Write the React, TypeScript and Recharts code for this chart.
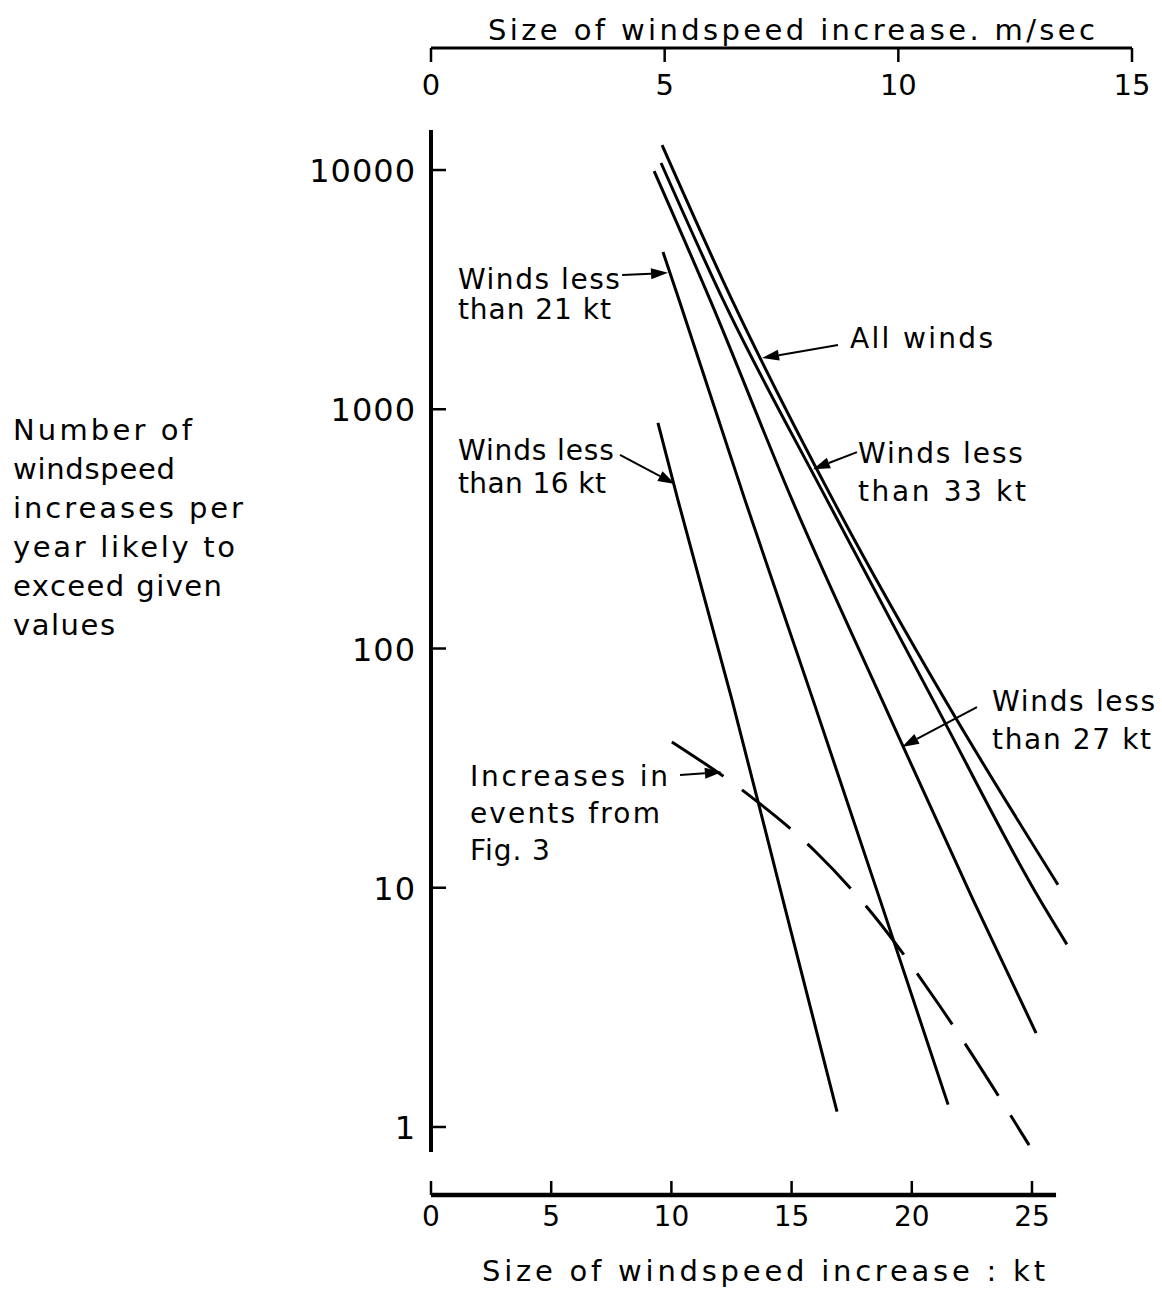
import React from 'react';
import { LineChart, Line, XAxis, YAxis, ReferenceLine, ReferenceDot, Label } from 'recharts';

const FONT = '"DejaVu Sans", "Open Sans", sans-serif';

// ---- data (x = windspeed increase in kt, y = number per year) ----
const allWinds: [number, number][] = [[9.61, 12710], [12.52, 2864], [16.72, 418], [21.38, 61], [26.08, 10.3]];
const lessThan33: [number, number][] = [[9.57, 10700], [12.15, 2864], [16.47, 418], [20.88, 61], [25.33, 8.9], [26.45, 5.8]];
const lessThan27: [number, number][] = [[9.28, 9900], [11.61, 2864], [15.02, 418], [18.76, 61], [22.55, 8.9], [25.17, 2.47]];
const lessThan21: [number, number][] = [[9.65, 4540], [10.32, 2864], [13.06, 418], [15.89, 61], [18.68, 8.9], [21.51, 1.24]];
const lessThan16: [number, number][] = [[9.44, 877], [10.27, 418], [12.52, 61], [14.64, 8.9], [16.89, 1.16]];
const fig3Events: [number, number][] = [[10.02, 40.7], [13.06, 25.1], [16.01, 14.1], [18.47, 7.55], [21.05, 3.33], [24.88, 0.84]];

const ktTicks = [0, 5, 10, 15, 20, 25];
const msTicks = [0, 5, 10, 15];
const countTicks = [1, 10, 100, 1000, 10000];

const KT_PER_MS = 1.944;
const ktDomain: [number, number] = [0, 29.16];
const msDomain: [number, number] = [0, 15];
const countDomain: [number, number] = [0.5197, 32360];

const toRows = (a: [number, number][]) => a.map(([x, y]) => ({ x, y }));
const toMsRows = (a: [number, number][]) => a.map(([x, y]) => ({ x: x / KT_PER_MS, y }));

const solidSeries = [allWinds, lessThan33, lessThan27, lessThan21, lessThan16];

// annotation texts (anchor in data units: kt, count)
const notes = [
  { x: 1.12, y: 3183, lines: ['Winds less', 'than 21 kt'], widths: [162, 153], dy: 30 },
  { x: 17.43, y: 1803, lines: ['All winds'], widths: [143], dy: 0 },
  { x: 17.76, y: 596, lines: ['Winds less', 'than 33 kt'], widths: [165, 168], dy: 38 },
  { x: 1.12, y: 614, lines: ['Winds less', 'than 16 kt'], widths: [156, 148], dy: 33 },
  { x: 1.62, y: 26.6, lines: ['Increases in', 'events from', 'Fig. 3'], widths: [198, 190, 80], dy: 37 },
  { x: 23.34, y: 54.8, lines: ['Winds less', 'than 27 kt'], widths: [163, 159], dy: 38 },
];

const arrows = [
  { from: [7.95, 3640], to: [9.86, 3717] },
  { from: [16.93, 1856], to: [13.77, 1637] },
  { from: [17.72, 662], to: [15.89, 562] },
  { from: [7.86, 644], to: [10.15, 487] },
  { from: [10.36, 29.6], to: [12.1, 30.5] },
  { from: [22.71, 56.9], to: [19.59, 38.8] },
];

const leftTitle = ['Number of', 'windspeed', 'increases per', 'year likely to', 'exceed given', 'values'];
const leftTitleWidths = [179, 162, 230, 222, 209, 102];

const ArrowShape = (p: any) => {
  const { x1, y1, x2, y2 } = p;
  const ang = Math.atan2(y2 - y1, x2 - x1);
  const L = 17;
  const Wd = 5.5;
  const bx = x2 - L * Math.cos(ang);
  const by = y2 - L * Math.sin(ang);
  const px = -Math.sin(ang) * Wd;
  const py = Math.cos(ang) * Wd;
  return (
    <g>
      <line x1={x1} y1={y1} x2={bx} y2={by} stroke="#000" strokeWidth={2} />
      <polygon points={`${x2},${y2} ${bx + px},${by + py} ${bx - px},${by - py}`} fill="#000" />
    </g>
  );
};

const TopTick = (p: any) => {
  const { x, y, payload } = p;
  return (
    <g>
      <line x1={x} y1={y} x2={x} y2={y + 14} stroke="#000" strokeWidth={2.5} />
      <text x={x} y={y + 47} textAnchor="middle" fontFamily={FONT} fontSize={29} fill="#000">
        {payload.value}
      </text>
    </g>
  );
};

const BottomTick = (p: any) => {
  const { x, y, payload } = p;
  return (
    <g>
      <line x1={x} y1={y} x2={x} y2={y - 14} stroke="#000" strokeWidth={2.5} />
      <text x={x} y={y + 31} textAnchor="middle" fontFamily={FONT} fontSize={28} fill="#000">
        {payload.value}
      </text>
    </g>
  );
};

const LeftTick = (p: any) => {
  const { x, y, payload } = p;
  return (
    <g>
      <line x1={x} y1={y} x2={x + 15} y2={y} stroke="#000" strokeWidth={2.5} />
      <text x={x - 15} y={y + 12} textAnchor="end" fontFamily={FONT} fontSize={32} letterSpacing={1} fill="#000">
        {payload.value}
      </text>
    </g>
  );
};

const TopTitle = (p: any) => {
  const vb = p.viewBox || { x: 431, y: 8, width: 701, height: 40 };
  return (
    <text x={vb.x + 57} y={vb.y + 32} textLength={607} lengthAdjust="spacing" fontFamily={FONT} fontSize={29} fill="#000">
      Size of windspeed increase. m/sec
    </text>
  );
};

const BottomTitle = (p: any) => {
  const vb = p.viewBox || { x: 431, y: 1195, width: 701, height: 40 };
  return (
    <text x={vb.x + 51} y={vb.y + 86} textLength={563} lengthAdjust="spacing" fontFamily={FONT} fontSize={29} fill="#000">
      Size of windspeed increase : kt
    </text>
  );
};

const LeftTitle = (p: any) => {
  const vb = p.viewBox || { x: 311, y: 48, width: 120, height: 1147 };
  return (
    <g>
      {leftTitle.map((t, i) => (
        <text
          key={i}
          x={vb.x - 298}
          y={vb.y + 392 + i * 39}
          textLength={leftTitleWidths[i]}
          lengthAdjust="spacing"
          fontFamily={FONT}
          fontSize={29}
          fill="#000"
        >
          {t}
        </text>
      ))}
    </g>
  );
};

export default function App() {
  return (
    <div style={{ position: 'absolute', left: 0, top: 0, width: 1162, height: 1292, background: '#fff' }}>
      <LineChart width={1162} height={1292} margin={{ top: 8, right: 30, bottom: 57, left: 311 }}>
        <XAxis
          xAxisId="kt"
          dataKey="x"
          type="number"
          orientation="bottom"
          domain={ktDomain}
          ticks={ktTicks}
          height={40}
          axisLine={false}
          tickLine={false}
          tickSize={0}
          tickMargin={0}
          tick={BottomTick}
          allowDataOverflow
          interval={0}
        >
          <Label content={BottomTitle} />
        </XAxis>
        <XAxis
          xAxisId="ms"
          dataKey="x"
          type="number"
          orientation="top"
          domain={msDomain}
          ticks={msTicks}
          height={40}
          axisLine={{ stroke: '#000', strokeWidth: 3 }}
          tickLine={false}
          tickSize={0}
          tickMargin={0}
          tick={TopTick}
          allowDataOverflow
          interval={0}
        >
          <Label content={TopTitle} />
        </XAxis>
        <YAxis
          yAxisId="cnt"
          type="number"
          scale="log"
          domain={countDomain}
          ticks={countTicks}
          width={120}
          axisLine={false}
          tickLine={false}
          tickSize={0}
          tickMargin={0}
          tick={LeftTick}
          allowDataOverflow
          interval={0}
        >
          <Label content={LeftTitle} />
        </YAxis>

        {/* axis lines drawn through the scales */}
        <ReferenceLine
          xAxisId="kt"
          yAxisId="cnt"
          ifOverflow="visible"
          segment={[{ x: 0, y: 0.786 }, { x: 0, y: 14690 }]}
          stroke="#000"
          strokeWidth={4}
        />
        <ReferenceLine
          xAxisId="kt"
          yAxisId="cnt"
          ifOverflow="visible"
          segment={[{ x: 0, y: countDomain[0] }, { x: 26, y: countDomain[0] }]}
          stroke="#000"
          strokeWidth={4.5}
        />

        {/* same "all winds" series expressed in m/s, invisible: gives the m/s axis its items */}
        <Line
          xAxisId="ms"
          yAxisId="cnt"
          data={toMsRows(allWinds)}
          dataKey="y"
          type="monotone"
          stroke="none"
          strokeOpacity={0}
          dot={false}
          activeDot={false}
          isAnimationActive={false}
        />

        {solidSeries.map((s, i) => (
          <Line
            key={i}
            xAxisId="kt"
            yAxisId="cnt"
            data={toRows(s)}
            dataKey="y"
            type="monotone"
            stroke="#000"
            strokeWidth={3}
            dot={false}
            activeDot={false}
            isAnimationActive={false}
          />
        ))}
        <Line
          xAxisId="kt"
          yAxisId="cnt"
          data={toRows(fig3Events)}
          dataKey="y"
          type="monotone"
          stroke="#000"
          strokeWidth={3}
          strokeDasharray="62 23"
          dot={false}
          activeDot={false}
          isAnimationActive={false}
        />

        {arrows.map((a, i) => (
          <ReferenceLine
            key={'a' + i}
            xAxisId="kt"
            yAxisId="cnt"
            ifOverflow="visible"
            segment={[{ x: a.from[0], y: a.from[1] }, { x: a.to[0], y: a.to[1] }]}
            shape={ArrowShape}
          />
        ))}

        {notes.map((n, i) => (
          <ReferenceDot
            key={'n' + i}
            xAxisId="kt"
            yAxisId="cnt"
            x={n.x}
            y={n.y}
            r={0}
            ifOverflow="visible"
            shape={(p: any) => (
              <g>
                {n.lines.map((t, j) => (
                  <text
                    key={j}
                    x={p.cx}
                    y={p.cy + j * n.dy}
                    textLength={n.widths[j]}
                    lengthAdjust="spacing"
                    fontFamily={FONT}
                    fontSize={28}
                    fill="#000"
                  >
                    {t}
                  </text>
                ))}
              </g>
            )}
          />
        ))}
      </LineChart>
    </div>
  );
}
